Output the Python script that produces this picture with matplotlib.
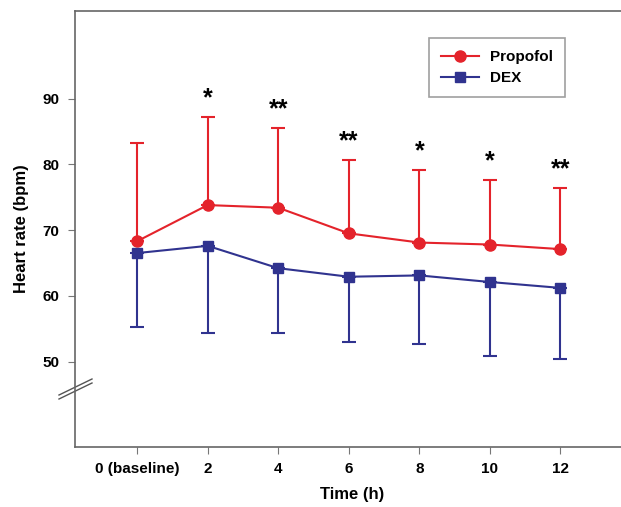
import matplotlib
matplotlib.use("Agg")
import matplotlib.pyplot as plt
from matplotlib.lines import Line2D

plt.rcParams["font.family"] = ["Liberation Sans", "DejaVu Sans"]
plt.rcParams["font.weight"] = "bold"

# data
hours = [0, 2, 4, 6, 8, 10, 12]
tick_labels = ["0 (baseline)", "2", "4", "6", "8", "10", "12"]
propofol_mean = [68.3, 73.8, 73.4, 69.5, 68.1, 67.8, 67.1]
propofol_upper = [83.2, 87.2, 85.6, 80.6, 79.2, 77.6, 76.4]
dex_mean = [66.5, 67.6, 64.2, 62.9, 63.1, 62.1, 61.2]
dex_lower = [55.2, 54.4, 54.4, 52.9, 52.6, 50.9, 50.4]
signif = ["", "*", "**", "**", "*", "*", "**"]

RED = "#e4232b"
BLUE = "#30338f"

fig = plt.figure(figsize=(6.21, 5.07), dpi=100)
ax = fig.add_axes([75 / 621, 1 - 447 / 507, (630 - 75) / 621, (447 - 10.5) / 507])

p_err = [[0] * len(hours), [u - m for u, m in zip(propofol_upper, propofol_mean)]]
d_err = [[m - l for m, l in zip(dex_mean, dex_lower)], [0] * len(hours)]

ax.errorbar(hours, propofol_mean, yerr=p_err, color=RED, marker="o", ms=8,
            lw=1.5, elinewidth=1.5, capsize=5, capthick=1.5, zorder=3)
ax.errorbar(hours, dex_mean, yerr=d_err, color=BLUE, marker="s", ms=7,
            lw=1.5, elinewidth=1.5, capsize=5, capthick=1.5, zorder=3)

for x, u, s in zip(hours, propofol_upper, signif):
    if s:
        ax.text(x, u + 1.0, s, ha="center", va="bottom", fontsize=18, fontweight="bold")

ax.set_xlim(-1.76, 13.97)
ax.set_ylim(37, 103.4)
ax.set_xticks(hours)
ax.set_xticklabels(tick_labels)
ax.set_yticks([50, 60, 70, 80, 90])
ax.tick_params(direction="out", length=5, color="#777777", labelsize=11, pad=6)
for lab in ax.get_xticklabels() + ax.get_yticklabels():
    lab.set_fontweight("bold")
for sp in ["left", "top", "bottom"]:
    ax.spines[sp].set_color("#666666")
    ax.spines[sp].set_linewidth(1.2)
ax.spines["right"].set_visible(False)

ax.set_xlabel("Time (h)", fontsize=12, fontweight="bold", labelpad=8)
ax.set_ylabel("Heart rate (bpm)", fontsize=12, fontweight="bold", labelpad=10)

# axis break mark
for dy in (0, 4):
    ax.plot([(59 - 75) / 555, (92 - 75) / 555],
            [(447 - 395 - dy) / 436.5, (447 - 379 - dy) / 436.5],
            transform=ax.transAxes, color="#555555", lw=1, clip_on=False)

handles = [Line2D([], [], color=RED, marker="o", ms=8, lw=1.5),
           Line2D([], [], color=BLUE, marker="s", ms=7, lw=1.5)]
leg = ax.legend(handles, ["Propofol", "DEX"], loc="upper left",
                bbox_to_anchor=((429 - 75) / 555, (447 - 38) / 436.5),
                borderaxespad=0, frameon=True, fancybox=False, edgecolor="#888888",
                fontsize=11, handlelength=2.5, borderpad=0.8, labelspacing=0.45,
                handletextpad=0.7)
leg.get_frame().set_linewidth(1.2)
for t in leg.get_texts():
    t.set_fontweight("bold")

fig.savefig("out.png", dpi=100)
